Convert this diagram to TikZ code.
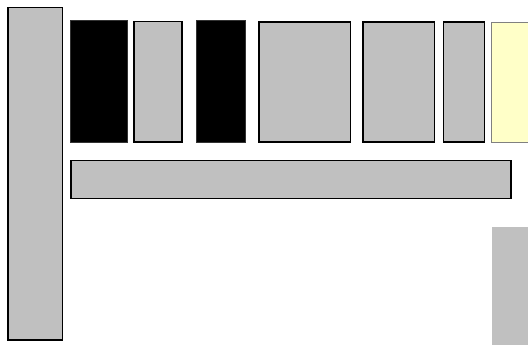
\documentclass[tikz,border=0pt]{standalone}
\usetikzlibrary{positioning}
\definecolor{boxgray}{HTML}{C0C0C0}
\definecolor{paleyellow}{HTML}{FFFFC8}
\tikzset{
  graybox/.style={draw=black, fill=boxgray, line width=1.5pt},
  blackbox/.style={draw=black!80, fill=black, line width=1pt},
  yellowbox/.style={draw=black!50, fill=paleyellow, line width=0.8pt},
  plainbox/.style={fill=boxgray},
}
\begin{document}
\begin{tikzpicture}[x=1pt,y=-1pt]
\useasboundingbox (0,0) rectangle (528,345);
\fill[white] (0,0) rectangle (528,345);
\draw[graybox] (8,7.5) rectangle (62.5,340) coordinate (leftbar);
\draw[blackbox] (70,21) rectangle (127,142) coordinate (b1);
\draw[graybox] (134,21.5) rectangle (182,142) coordinate (b2);
\draw[blackbox] (196,21) rectangle (245,142) coordinate (b3);
\draw[graybox] (259,22) rectangle (350.5,142) coordinate (b4);
\draw[graybox] (363,22) rectangle (434.5,142) coordinate (b5);
\draw[graybox] (443.5,22) rectangle (484.5,142) coordinate (b6);
\draw[yellowbox] (491.5,22) rectangle (530,142.5) coordinate (b7);
\draw[graybox] (71,160.5) rectangle (511,198.5) coordinate (bar);
\fill[plainbox] (492,227) rectangle (528,345) coordinate (corner);
\end{tikzpicture}
\end{document}
